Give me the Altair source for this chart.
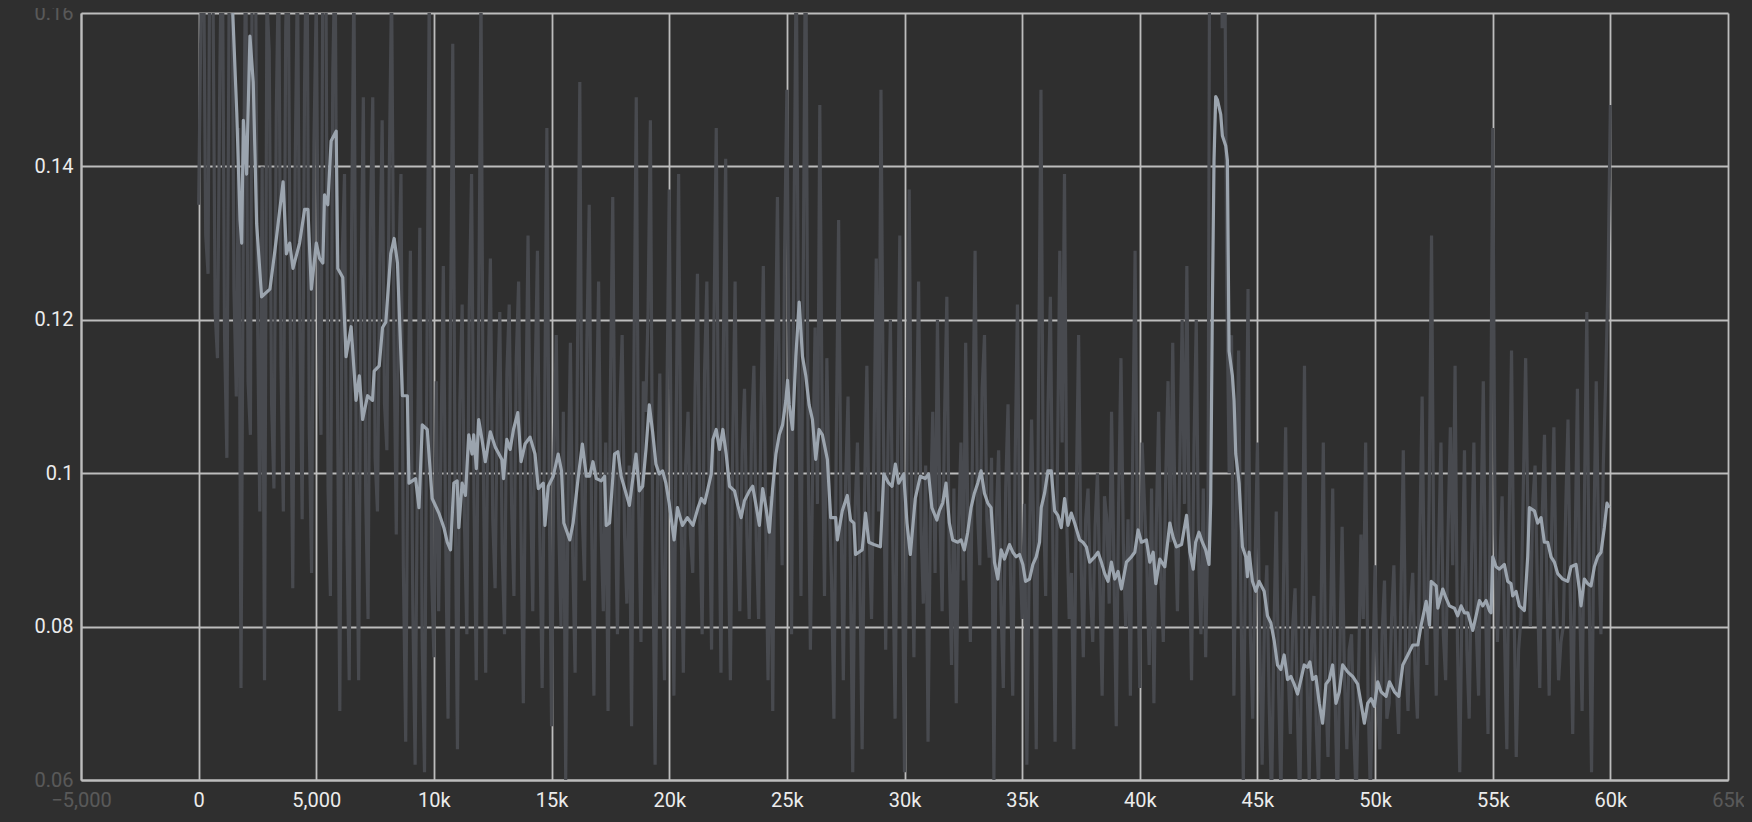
import altair as alt
import pandas as pd

# ---------------- data ----------------
RAW_STEP = 100

# raw (unsmoothed) loss, one chunk per 10k steps, values every 100 steps
raw_0_10k_start = 0
raw_0_10k = [0.135, 0.160, 0.172, 0.131, 0.126, 0.185, 0.168, 0.121, 0.115, 0.152,
             0.175, 0.118, 0.102, 0.166, 0.180, 0.124, 0.110, 0.145, 0.072, 0.133,
             0.170, 0.112, 0.105, 0.188, 0.178, 0.121, 0.095, 0.140, 0.073, 0.162,
             0.155, 0.109, 0.098, 0.147, 0.168, 0.114, 0.095, 0.158, 0.171, 0.117,
             0.085, 0.139, 0.166, 0.120, 0.094, 0.150, 0.175, 0.106, 0.087, 0.143,
             0.162, 0.118, 0.105, 0.184, 0.173, 0.098, 0.084, 0.152, 0.169, 0.110,
             0.069, 0.128, 0.139, 0.092, 0.073, 0.131, 0.165, 0.100, 0.073, 0.124,
             0.149, 0.097, 0.081, 0.133, 0.149, 0.102, 0.095, 0.127, 0.146, 0.109,
             0.103, 0.139, 0.164, 0.118, 0.092, 0.126, 0.139, 0.088, 0.065, 0.108,
             0.129, 0.083, 0.062, 0.101, 0.132, 0.078, 0.061, 0.114, 0.163, 0.087]
raw_10k_20k_start = 10000
raw_10k_20k = [0.076, 0.112, 0.082, 0.104, 0.127, 0.091, 0.068, 0.117, 0.156, 0.098,
               0.064, 0.109, 0.122, 0.093, 0.079, 0.121, 0.139, 0.097, 0.073, 0.118,
               0.163, 0.101, 0.074, 0.112, 0.128, 0.094, 0.085, 0.110, 0.121, 0.090,
               0.079, 0.113, 0.122, 0.096, 0.084, 0.115, 0.125, 0.093, 0.070, 0.106,
               0.131, 0.099, 0.082, 0.112, 0.129, 0.092, 0.072, 0.105, 0.145, 0.097,
               0.067, 0.102, 0.118, 0.094, 0.080, 0.108, 0.060, 0.097, 0.117, 0.089,
               0.074, 0.115, 0.151, 0.095, 0.086, 0.117, 0.135, 0.094, 0.071, 0.106,
               0.125, 0.093, 0.082, 0.104, 0.069, 0.111, 0.136, 0.097, 0.079, 0.108,
               0.118, 0.092, 0.083, 0.101, 0.067, 0.114, 0.149, 0.096, 0.078, 0.112,
               0.108, 0.121, 0.146, 0.091, 0.062, 0.098, 0.113, 0.088, 0.073, 0.109]
raw_20k_30k_start = 20000
raw_20k_30k = [0.137, 0.094, 0.071, 0.108, 0.139, 0.095, 0.074, 0.101, 0.108, 0.092,
               0.087, 0.111, 0.126, 0.094, 0.079, 0.113, 0.125, 0.098, 0.077, 0.119,
               0.145, 0.101, 0.074, 0.116, 0.141, 0.093, 0.073, 0.104, 0.125, 0.095,
               0.082, 0.103, 0.111, 0.092, 0.081, 0.106, 0.114, 0.091, 0.081, 0.108,
               0.127, 0.094, 0.073, 0.097, 0.069, 0.112, 0.136, 0.104, 0.088, 0.128,
               0.150, 0.110, 0.079, 0.131, 0.168, 0.113, 0.084, 0.127, 0.175, 0.104,
               0.077, 0.101, 0.119, 0.096, 0.148, 0.107, 0.084, 0.115, 0.097, 0.086,
               0.068, 0.104, 0.133, 0.095, 0.073, 0.099, 0.110, 0.088, 0.061, 0.095,
               0.104, 0.087, 0.064, 0.097, 0.114, 0.092, 0.081, 0.103, 0.128, 0.095,
               0.150, 0.107, 0.077, 0.104, 0.120, 0.091, 0.068, 0.102, 0.131, 0.094]
raw_30k_40k_start = 30000
raw_30k_40k = [0.061, 0.098, 0.137, 0.096, 0.076, 0.104, 0.125, 0.093, 0.083, 0.101,
               0.065, 0.094, 0.108, 0.087, 0.120, 0.096, 0.082, 0.107, 0.123, 0.089,
               0.075, 0.098, 0.070, 0.093, 0.104, 0.086, 0.117, 0.092, 0.078, 0.106,
               0.129, 0.095, 0.088, 0.111, 0.118, 0.094, 0.089, 0.102, 0.060, 0.094,
               0.103, 0.083, 0.072, 0.098, 0.109, 0.087, 0.071, 0.101, 0.122, 0.090,
               0.081, 0.096, 0.062, 0.088, 0.107, 0.091, 0.064, 0.112, 0.150, 0.097,
               0.084, 0.109, 0.123, 0.092, 0.065, 0.101, 0.129, 0.104, 0.139, 0.093,
               0.081, 0.087, 0.064, 0.097, 0.118, 0.089, 0.076, 0.094, 0.098, 0.085,
               0.078, 0.093, 0.100, 0.086, 0.071, 0.097, 0.094, 0.083, 0.108, 0.088,
               0.067, 0.096, 0.115, 0.091, 0.080, 0.094, 0.071, 0.103, 0.129, 0.092]
raw_40k_50k_start = 40000
raw_40k_50k = [0.072, 0.104, 0.096, 0.088, 0.075, 0.098, 0.070, 0.093, 0.108, 0.086,
               0.078, 0.099, 0.112, 0.091, 0.117, 0.094, 0.082, 0.101, 0.120, 0.096,
               0.127, 0.092, 0.073, 0.103, 0.120, 0.089, 0.079, 0.098, 0.076, 0.094,
               0.205, 0.172, 0.190, 0.165, 0.230, 0.158, 0.175, 0.124, 0.100, 0.118,
               0.071, 0.095, 0.116, 0.083, 0.060, 0.092, 0.124, 0.079, 0.068, 0.088,
               0.104, 0.077, 0.062, 0.081, 0.088, 0.070, 0.057, 0.079, 0.095, 0.072,
               0.058, 0.084, 0.106, 0.075, 0.066, 0.080, 0.085, 0.069, 0.056, 0.083,
               0.114, 0.074, 0.060, 0.078, 0.084, 0.067, 0.059, 0.081, 0.104, 0.072,
               0.063, 0.079, 0.098, 0.071, 0.056, 0.076, 0.093, 0.073, 0.064, 0.077,
               0.079, 0.066, 0.057, 0.074, 0.092, 0.081, 0.104, 0.071, 0.058, 0.073]
raw_50k_60k_start = 50000
raw_50k_60k = [0.088, 0.071, 0.064, 0.079, 0.086, 0.068, 0.070, 0.081, 0.088, 0.073,
               0.066, 0.084, 0.103, 0.076, 0.069, 0.082, 0.087, 0.074, 0.068, 0.091,
               0.110, 0.083, 0.075, 0.097, 0.131, 0.086, 0.071, 0.090, 0.104, 0.079,
               0.073, 0.092, 0.106, 0.088, 0.114, 0.078, 0.061, 0.085, 0.103, 0.077,
               0.068, 0.089, 0.104, 0.080, 0.071, 0.093, 0.112, 0.082, 0.066, 0.097,
               0.145, 0.092, 0.078, 0.088, 0.097, 0.079, 0.064, 0.094, 0.116, 0.084,
               0.063, 0.077, 0.081, 0.098, 0.115, 0.093, 0.080, 0.096, 0.101, 0.085,
               0.072, 0.094, 0.105, 0.086, 0.071, 0.092, 0.106, 0.084, 0.073, 0.078,
               0.080, 0.095, 0.107, 0.083, 0.066, 0.090, 0.111, 0.082, 0.069, 0.097,
               0.121, 0.084, 0.061, 0.093, 0.112, 0.091, 0.079, 0.101, 0.112, 0.125,
               0.148]

# smoothed loss, (step, value) pairs
smooth_0_10k = [(0, 0.26), (600, 0.21), (1200, 0.175), (1450, 0.160), (1620, 0.147),
                (1760, 0.133), (1830, 0.130), (1900, 0.146), (2040, 0.139), (2180, 0.157),
                (2320, 0.151), (2465, 0.1325), (2675, 0.123), (3030, 0.124), (3240, 0.129),
                (3590, 0.138), (3730, 0.1286), (3870, 0.130), (4010, 0.1267), (4290, 0.130),
                (4505, 0.1344), (4645, 0.1344), (4790, 0.124), (5000, 0.130), (5140, 0.128),
                (5280, 0.1274), (5350, 0.1363), (5490, 0.135), (5630, 0.1433), (5845, 0.1446),
                (5915, 0.1267), (6125, 0.1255), (6265, 0.1152), (6480, 0.1191), (6690, 0.1095),
                (6830, 0.1127), (6970, 0.107), (7180, 0.1101), (7390, 0.1095), (7460, 0.1133),
                (7675, 0.114), (7815, 0.119), (7955, 0.1197), (8165, 0.1286), (8310, 0.1306),
                (8450, 0.1274), (8660, 0.1101), (8870, 0.1101), (8940, 0.0987), (9220, 0.0993),
                (9365, 0.0955), (9505, 0.1063), (9715, 0.1057), (9925, 0.0967), (10210, 0.0948)]
smooth_10k_21k = [(10424, 0.0929), (10565, 0.091), (10705, 0.090), (10846, 0.0987), (10987, 0.099),
                  (11057, 0.0929), (11198, 0.0987), (11339, 0.0971), (11480, 0.105), (11620, 0.1025),
                  (11691, 0.105), (11804, 0.1006), (11902, 0.107), (12043, 0.1044), (12184, 0.1015),
                  (12395, 0.1054), (12606, 0.1034), (12888, 0.1018), (12958, 0.0993), (13099, 0.1044),
                  (13240, 0.1031), (13381, 0.1057), (13564, 0.1079), (13704, 0.1015), (13873, 0.1038),
                  (14085, 0.1047), (14296, 0.1025), (14437, 0.098), (14648, 0.0987), (14718, 0.0932),
                  (14859, 0.0983), (15070, 0.0996), (15281, 0.1025), (15422, 0.1003), (15521, 0.0935),
                  (15774, 0.0913), (15915, 0.0935), (16126, 0.0993), (16309, 0.1038), (16478, 0.0996),
                  (16619, 0.0996), (16760, 0.1015), (16901, 0.0993), (17112, 0.099), (17253, 0.0996),
                  (17323, 0.0932), (17464, 0.0935), (17675, 0.1025), (17816, 0.1028), (17957, 0.0996),
                  (18309, 0.0958), (18520, 0.1009), (18590, 0.1025), (18731, 0.0977), (18872, 0.0983),
                  (19013, 0.1031), (19154, 0.1089), (19294, 0.1054), (19435, 0.1012), (19576, 0.0999),
                  (19717, 0.1003), (19858, 0.0987), (19998, 0.0961), (20209, 0.0913), (20350, 0.0955),
                  (20561, 0.0932), (20772, 0.0942)]
smooth_21k_31k = [(21011, 0.0932), (21223, 0.0955), (21364, 0.0967), (21505, 0.0961), (21646, 0.098),
                  (21787, 0.0999), (21857, 0.1044), (21998, 0.1057), (22139, 0.1031), (22280, 0.1057),
                  (22421, 0.1025), (22562, 0.0983), (22774, 0.0977), (22915, 0.0958), (23056, 0.0942),
                  (23197, 0.0964), (23408, 0.0977), (23549, 0.0983), (23690, 0.0958), (23831, 0.0932),
                  (23972, 0.098), (24113, 0.0955), (24254, 0.0923), (24395, 0.098), (24536, 0.1025),
                  (24677, 0.105), (24818, 0.1063), (24959, 0.1095), (25030, 0.1121), (25100, 0.1089),
                  (25241, 0.1057), (25382, 0.1152), (25523, 0.1223), (25664, 0.1152), (25805, 0.1127),
                  (25946, 0.1089), (26087, 0.107), (26228, 0.1018), (26369, 0.1057), (26510, 0.105),
                  (26722, 0.1018), (26863, 0.0942), (27074, 0.0942), (27145, 0.0913), (27356, 0.0951),
                  (27568, 0.0971), (27709, 0.0939), (27850, 0.0935), (27920, 0.0894), (28202, 0.090),
                  (28343, 0.0948), (28484, 0.091), (28696, 0.0907), (28978, 0.0904), (29119, 0.0999),
                  (29330, 0.0987), (29471, 0.0983), (29612, 0.1012), (29753, 0.0987), (29965, 0.0999),
                  (30106, 0.0935), (30247, 0.0894), (30458, 0.0967), (30670, 0.0996), (30881, 0.0993),
                  (31022, 0.0999), (31163, 0.0955), (31375, 0.0939)]
smooth_31k_42k = [(31480, 0.0951), (31622, 0.0961), (31764, 0.0987), (31906, 0.0935), (32048, 0.0913),
                  (32261, 0.091), (32403, 0.0913), (32545, 0.090), (32687, 0.0923), (32829, 0.0955),
                  (32971, 0.0974), (33113, 0.0987), (33255, 0.1003), (33397, 0.0974), (33539, 0.0961),
                  (33681, 0.0955), (33823, 0.0884), (33965, 0.0862), (34107, 0.090), (34249, 0.0888),
                  (34462, 0.0907), (34604, 0.0897), (34746, 0.0891), (34888, 0.0894), (35030, 0.0881),
                  (35144, 0.0859), (35314, 0.0862), (35456, 0.0881), (35598, 0.0891), (35740, 0.091),
                  (35811, 0.0955), (35953, 0.0974), (36095, 0.1003), (36237, 0.1003), (36379, 0.0951),
                  (36521, 0.0945), (36663, 0.0929), (36805, 0.0967), (36947, 0.0932), (37089, 0.0948),
                  (37231, 0.0935), (37444, 0.0913), (37586, 0.091), (37728, 0.0904), (37870, 0.0884),
                  (38083, 0.0891), (38225, 0.0897), (38367, 0.0884), (38509, 0.0869), (38651, 0.0859),
                  (38793, 0.0884), (38935, 0.0862), (39077, 0.0872), (39219, 0.0849), (39432, 0.0884),
                  (39645, 0.0891), (39787, 0.0897), (39929, 0.0926), (40071, 0.091), (40284, 0.0913),
                  (40426, 0.0884), (40568, 0.0897), (40682, 0.0856), (40852, 0.0888), (41065, 0.0878),
                  (41278, 0.0935), (41420, 0.0916), (41562, 0.0904), (41775, 0.0907), (41988, 0.0945),
                  (42130, 0.0897), (42272, 0.0875)]
smooth_42k_53k = [(42374, 0.091), (42516, 0.0923), (42658, 0.091), (42800, 0.090), (42942, 0.0881),
                  (43013, 0.0961), (43084, 0.1216), (43155, 0.1408), (43226, 0.1491), (43297, 0.1487),
                  (43439, 0.1468), (43510, 0.144), (43652, 0.1427), (43723, 0.1408), (43794, 0.1159),
                  (43936, 0.1127), (44007, 0.1095), (44078, 0.1025), (44220, 0.0987), (44362, 0.0904),
                  (44504, 0.0891), (44575, 0.0865), (44646, 0.0897), (44788, 0.0859), (44930, 0.0846),
                  (45072, 0.0859), (45285, 0.0846), (45427, 0.0814), (45569, 0.0805), (45711, 0.0782),
                  (45853, 0.075), (45995, 0.0744), (46137, 0.0763), (46279, 0.0731), (46421, 0.0735),
                  (46563, 0.0725), (46705, 0.0712), (46847, 0.0731), (46989, 0.075), (47131, 0.0747),
                  (47230, 0.0754), (47344, 0.0731), (47486, 0.0735), (47628, 0.070), (47770, 0.0674),
                  (47912, 0.0725), (48054, 0.0731), (48196, 0.075), (48338, 0.070), (48480, 0.0715),
                  (48622, 0.075), (48835, 0.0741), (49048, 0.0735), (49261, 0.0725), (49403, 0.070),
                  (49545, 0.0674), (49687, 0.070), (49829, 0.0706), (49971, 0.0696), (50113, 0.0728),
                  (50255, 0.0715), (50468, 0.0709), (50610, 0.0728), (50823, 0.0715), (51008, 0.0709),
                  (51178, 0.075), (51391, 0.0763), (51604, 0.0776), (51817, 0.0776), (51959, 0.0802),
                  (52172, 0.0833), (52314, 0.0802), (52385, 0.0859), (52598, 0.0853), (52669, 0.0824)]
smooth_53k_60k = [(52877, 0.0849), (53018, 0.0837), (53160, 0.0827), (53372, 0.0824), (53514, 0.0814),
                  (53655, 0.0827), (53797, 0.0818), (53939, 0.0818), (54151, 0.0795), (54293, 0.0814),
                  (54434, 0.0834), (54576, 0.0827), (54717, 0.0834), (54859, 0.0821), (54930, 0.0818),
                  (55001, 0.0891), (55142, 0.0878), (55284, 0.0875), (55496, 0.0881), (55638, 0.0859),
                  (55779, 0.0856), (55850, 0.084), (55992, 0.0846), (56133, 0.0827), (56346, 0.0821),
                  (56487, 0.0891), (56558, 0.0955), (56771, 0.0951), (56912, 0.0935), (57054, 0.0942),
                  (57195, 0.091), (57337, 0.091), (57479, 0.0891), (57620, 0.0884), (57762, 0.0869),
                  (57974, 0.0862), (58187, 0.0859), (58328, 0.0878), (58541, 0.0881), (58682, 0.0849),
                  (58753, 0.0827), (58895, 0.0862), (59036, 0.0856), (59178, 0.0853), (59320, 0.0878),
                  (59461, 0.0891), (59603, 0.0897), (59744, 0.0929), (59857, 0.0961), (59957, 0.0955)]

x_ticks = [-5000, 0, 5000, 10000, 15000, 20000, 25000, 30000, 35000, 40000,
           45000, 50000, 55000, 60000, 65000]
y_ticks = [0.06, 0.08, 0.1, 0.12, 0.14, 0.16]
x_domain = [-5000, 65000]
y_domain = [0.06, 0.16]

# ---------------- tables ----------------
raw_rows = []
for start, vals in [(raw_0_10k_start, raw_0_10k), (raw_10k_20k_start, raw_10k_20k),
                    (raw_20k_30k_start, raw_20k_30k), (raw_30k_40k_start, raw_30k_40k),
                    (raw_40k_50k_start, raw_40k_50k), (raw_50k_60k_start, raw_50k_60k)]:
    for i, v in enumerate(vals):
        raw_rows.append({"step": start + RAW_STEP * i, "value": v})
raw_df = pd.DataFrame(raw_rows)

smooth_rows = []
for seg in [smooth_0_10k, smooth_10k_21k, smooth_21k_31k, smooth_31k_42k,
            smooth_42k_53k, smooth_53k_60k]:
    for s, v in seg:
        smooth_rows.append({"step": s, "value": v})
smooth_df = pd.DataFrame(smooth_rows)

# ---------------- styling ----------------
BG = "#2f2f2f"
GRID = "#bdbdbd"
LABEL = "#ececec"
RAW_COLOR = "#484a4f"
SMOOTH_COLOR = "#9ba4ae"

x_label_expr = ("datum.value >= 10000 || datum.value <= -10000 ? "
                "format(datum.value / 1000, 'd') + 'k' : format(datum.value, ',')")

x_enc = alt.X(
    "step:Q",
    scale=alt.Scale(domain=x_domain, nice=False, zero=False),
    axis=alt.Axis(
        values=x_ticks, title=None, grid=True, ticks=False,
        labelExpr=x_label_expr, labelFlush=False, labelOverlap=False,
        labelPadding=10,
        labelOpacity={"condition": {"test": "datum.value < 0 || datum.value > 62000",
                                    "value": 0.22}, "value": 1},
    ),
)
y_enc = alt.Y(
    "value:Q",
    scale=alt.Scale(domain=y_domain, nice=False, zero=False),
    axis=alt.Axis(
        values=y_ticks, title=None, grid=True, ticks=False,
        labelExpr="format(datum.value, '.2~f')", labelOverlap=False,
        labelFlush=False, labelPadding=8,
        labelOpacity={"condition": {"test": "datum.value < 0.07 || datum.value > 0.15",
                                    "value": 0.22}, "value": 1},
    ),
)

raw_line = alt.Chart(raw_df).mark_line(
    color=RAW_COLOR, strokeWidth=3.2, strokeJoin="bevel", clip=True, interpolate="linear"
).encode(x=x_enc, y=y_enc)

smooth_line = alt.Chart(smooth_df).mark_line(
    color=SMOOTH_COLOR, strokeWidth=3.2, strokeJoin="round", clip=True, interpolate="linear"
).encode(x="step:Q", y="value:Q")

chart = (
    alt.layer(raw_line, smooth_line)
    .properties(
        width=1647, height=767,
        background=BG,
        autosize=alt.AutoSizeParams(type="none"),
        padding={"left": 73, "top": 5, "right": 16, "bottom": 30},
    )
    .configure_view(strokeWidth=0)
    .configure_axis(
        gridColor=GRID, gridWidth=1.8, gridOpacity=1,
        domainColor=GRID, domainWidth=2,
        labelColor=LABEL, labelFont="Roboto", labelFontSize=20,
    )
)

chart.save("out.html", embed_options={"renderer": "svg", "actions": False,
                                      "defaultStyle": "body { background: #2f2f2f; }"})
